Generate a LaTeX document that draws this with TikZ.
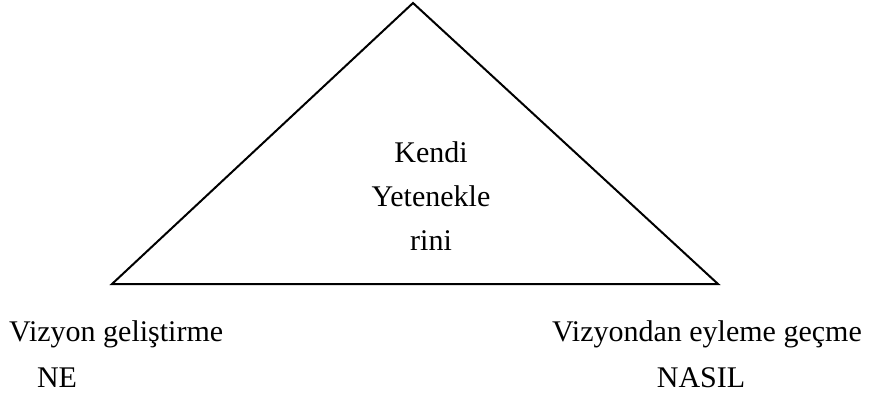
\documentclass[tikz,border=0pt]{standalone}
\usepackage{fontspec}
\setmainfont{Liberation Serif}
\begin{document}
\begin{tikzpicture}[x=1pt,y=-1pt,
  lbl/.style={anchor=base,inner sep=0pt,font=\fontsize{30}{36}\selectfont}]
\useasboundingbox (0,0) rectangle (874,412);
\coordinate (apex) at (413,3);
\coordinate (bl) at (112,284);
\coordinate (br) at (718,284);
\draw[line width=2pt,line join=miter] (apex) -- (bl) -- (br) -- cycle;
\node[lbl] (k1) at (431,162) {Kendi};
\node[lbl] (k2) at (431,206) {Yetenekle};
\node[lbl] (k3) at (431,250) {rini};
\node[lbl,anchor=base west] (v1) at (9,341) {Vizyon geliştirme};
\node[lbl] (ne) at (57,387) {NE};
\node[lbl,anchor=base east] (v2) at (862,341) {Vizyondan eyleme geçme};
\node[lbl] (nasil) at (701,387) {NASIL};
\end{tikzpicture}
\end{document}
